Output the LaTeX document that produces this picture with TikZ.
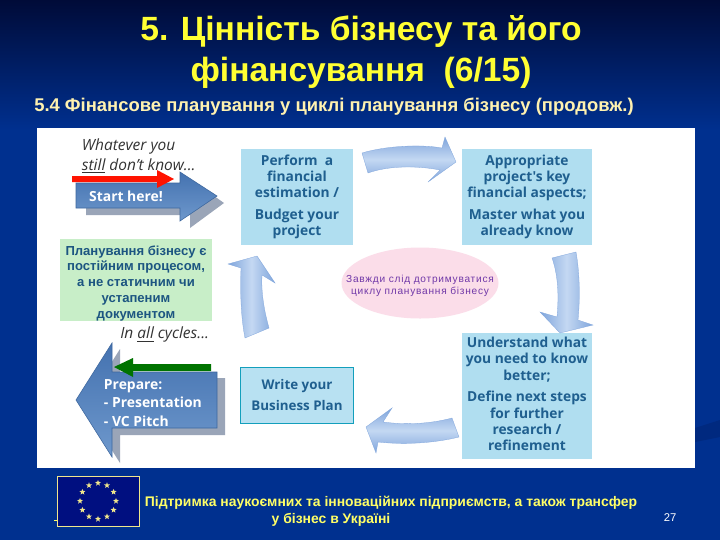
\documentclass[tikz,border=0pt]{standalone}
\usepackage{fontspec}
\setmainfont{Liberation Sans}
\newfontfamily\slidefont{Open Sans}
\usetikzlibrary{shapes.geometric}
\definecolor{slideblue}{HTML}{00308F}
\definecolor{slidenavy}{HTML}{000B38}
\definecolor{titleyellow}{HTML}{FFFF33}
\definecolor{subtitlecream}{HTML}{FFF2B0}
\definecolor{footeryellow}{HTML}{FFFF66}
\definecolor{boxblue}{HTML}{B0DEF0}
\definecolor{boxtext}{HTML}{1F5F8F}
\definecolor{boxgreen}{HTML}{C8EEC8}
\definecolor{boxpink}{HTML}{FBDDE9}
\definecolor{ellipsetext}{HTML}{7038A8}
\definecolor{arrowdark}{HTML}{4472B0}
\definecolor{arrowlight}{HTML}{6E98CC}
\definecolor{curvelight}{HTML}{C4D8F2}
\definecolor{curvedark}{HTML}{7FA5DC}
\definecolor{shadowgrey}{HTML}{9AA5B8}
\definecolor{flagblue}{HTML}{000F80}
\definecolor{stargold}{HTML}{F0E68C}
\tikzset{
	titletext/.style={text=titleyellow,font=\fontsize{23.9}{29}\selectfont\bfseries,align=center},
	infobox/.style n args={2}{fill=boxblue,minimum width=#1*0.025cm,minimum height=#2*0.025cm,inner sep=0pt,text=boxtext,align=center,font=\slidefont\fontsize{9.8}{11.5}\selectfont\bfseries},
	handtext/.style={font=\slidefont\itshape\fontsize{11}{14}\selectfont,text=black!80,align=left},
	bigarrow/.style={top color=arrowdark,bottom color=arrowlight,draw=arrowdark!90!black,line width=0.4pt},
	curvearrow/.style={top color=curvedark,bottom color=curvedark,middle color=curvelight,draw=curvedark,line width=0.2pt},
	curvearrowv/.style={left color=curvedark,right color=curvedark,middle color=curvelight,draw=curvedark,line width=0.2pt},
	arrowtext/.style={text=white,font=\slidefont\fontsize{9.9}{13}\selectfont\bfseries,align=left},
	footertext/.style={text=footeryellow,font=\fontsize{9.9}{12.3}\selectfont\bfseries}
}
\begin{document}
\begin{tikzpicture}[x=0.025cm,y=-0.025cm]
	\useasboundingbox (0,0) rectangle (720,540);
	\shade[top color=slidenavy,bottom color=slideblue] (0,0) rectangle (720,130);
	\fill[slideblue] (0,130) rectangle (720,540);
	\fill[slidenavy!18!slideblue] (695,428) -- (720,420) -- (720,437) -- (695,442) -- cycle;
	\fill[white] (37,128) rectangle (695,468);
	\node[titletext] (title) at (361,52) {5. Цінність бізнесу та його\\фінансування\ \ (6/15)};
	\node[text=subtitlecream,font=\fontsize{13.1}{15}\selectfont\bfseries] (subtitle) at (334,107) {5.4 Фінансове планування у циклі планування бізнесу (продовж.)};

	\node[handtext,anchor=north west] (whatever) at (77,134) {Whatever you\\\underline{still} don’t know...};
	\fill[shadowgrey] (86,190) -- (190,190) -- (190,179) -- (224,203) -- (190,228) -- (190,215) -- (86,215) -- cycle;
	\shade[bigarrow] (76,183) -- (180,183) -- (180,172) -- (217,196) -- (180,221) -- (180,208) -- (76,208) -- cycle;
	\node[arrowtext] (start) at (126,196) {Start here!};
	\fill[red!85!orange] (72,176) -- (157,176) -- (157,170) -- (174,179) -- (157,188) -- (157,182) -- (72,182) -- cycle;

	\node[infobox={112}{96}] (estimate) at (297,197) {Perform\ \ a\\financial\\estimation /\\[4pt]Budget your\\project};
	\node[infobox={130}{96}] (aspects) at (527,197) {Appropriate\\project's key\\financial aspects;\\[4pt]Master what you\\already know};
	\node[infobox={130}{126}] (refine) at (527,396) {Understand what\\you need to know\\better;\\[4pt]Define next steps\\for further\\research /\\refinement\rule[-3pt]{0pt}{3pt}};
	\node[infobox={113}{56},draw=boxtext!60!cyan,line width=0.5pt,fill=boxblue!90!white,font=\slidefont\fontsize{9.5}{15.5}\selectfont\bfseries] (write) at (297,395) {Write your\\Business Plan};
	\node[fill=boxgreen,minimum width=152*0.025cm,minimum height=82*0.025cm,inner sep=0pt,text=boxtext!90!black,align=center,font=\fontsize{9.3}{11.2}\selectfont\bfseries] (constant) at (136,280) {\rule{0pt}{11.5pt}Планування бізнесу є\\постійним процесом,\\а не статичним чи\\устапеним\\документом};
	\node[ellipse,fill=boxpink,minimum width=157*0.025cm,minimum height=71*0.025cm,inner sep=0pt] (always) at (420,283) {};
	\node[text=ellipsetext,align=center,inner sep=0pt,font=\fontsize{7.2}{8.5}\selectfont\addfontfeature{LetterSpace=7.5}] (alwaystext) at (always.center) {\rule{0pt}{9pt}Завжди слід дотримуватися\\циклу планування бізнесу};

	\shade[curvearrow] (362,153) .. controls (385,146) and (420,144) .. (442,148) -- (445,137) -- (456,162) -- (428,182) -- (440,170) .. controls (420,166) and (390,165) .. (368,173) -- cycle;
	\shade[curvearrowv] (552,258) -- (576,252) .. controls (580,275) and (580,300) .. (578,320) -- (593,325) -- (560,333) -- (540,312) -- (557,317) .. controls (559,295) and (558,275) .. (552,258) -- cycle;
	\shade[curvearrow] (452,418) -- (459,437) .. controls (435,443) and (405,445) .. (378,442) -- (376,453) -- (366,427) -- (392,408) -- (383,422) .. controls (405,425) and (430,424) .. (452,418) -- cycle;
	\shade[curvearrowv] (245,338) -- (269,328) .. controls (264,310) and (261,292) .. (262,275) -- (275,283) -- (257,256) -- (228,264) -- (241,268) .. controls (240,292) and (241,318) .. (245,338) -- cycle;

	\node[handtext,anchor=north east] (cycles) at (214,322) {In \underline{all} cycles...};
	\fill[shadowgrey] (225,378) -- (120,378) -- (120,349) -- (84,406) -- (120,463) -- (120,435) -- (225,435) -- cycle;
	\shade[bigarrow] (217,372) -- (112,372) -- (112,343) -- (76,400) -- (112,457) -- (112,428) -- (217,428) -- cycle;
	\node[arrowtext,anchor=west] (prepare) at (99,403) {Prepare:\\- Presentation\\- VC Pitch};
	\fill[green!45!black] (211,364) -- (133,364) -- (133,358) -- (114,367) -- (133,377) -- (133,371) -- (211,371) -- cycle;

	\fill[footeryellow] (54,519.5) rectangle (58,521);
	\node[draw=stargold,line width=0.5pt,fill=flagblue,minimum width=82*0.025cm,minimum height=50*0.025cm,inner sep=0pt] (flag) at (98,501) {};
	\foreach \i in {0,30,...,330}
		\node[star,star points=5,star point ratio=2.4,fill=stargold,minimum size=4.5pt,inner sep=0pt] (star\i) at ([xshift={18*0.025cm*sin(\i)},yshift={18*0.025cm*cos(\i)}]flag.center) {};
	\node[footertext] (footer) at (391,503) {Підтримка наукоємних та інноваційних підприємств, а також трансфер};
	\node[footertext] (footersecond) at (331,520) {у бізнес в Україні};
	\node[text=white,font=\fontsize{8}{10}\selectfont] (page) at (670,518) {27};
\end{tikzpicture}
\end{document}
